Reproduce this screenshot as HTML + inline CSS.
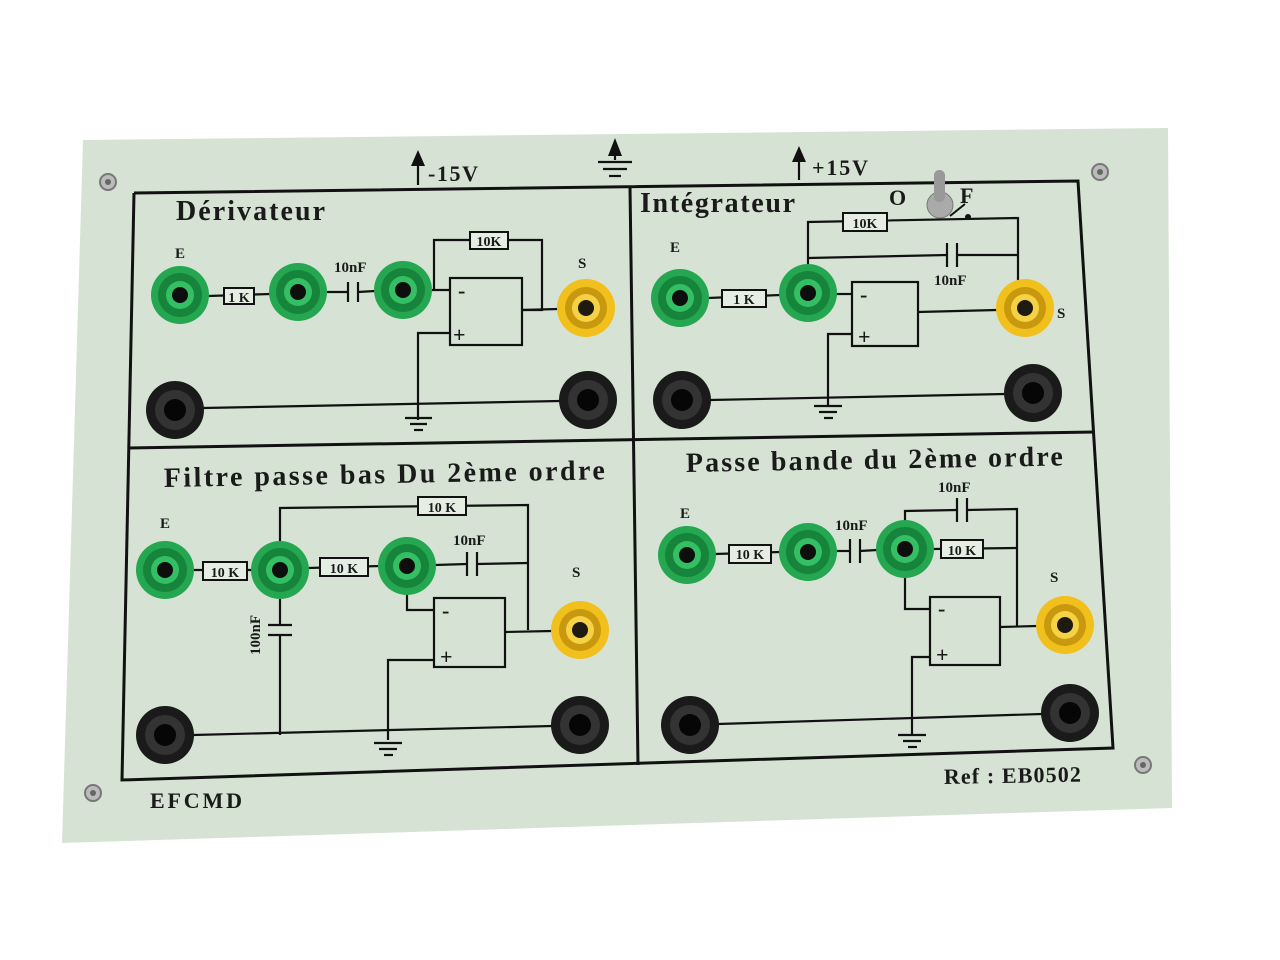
<!DOCTYPE html>
<html><head><meta charset="utf-8"><style>
html,body{margin:0;padding:0;background:#fff;}
svg{display:block}
text{font-family:"Liberation Serif",serif;font-weight:bold;fill:#1a1a1a}
</style></head><body>
<svg width="1280" height="960" viewBox="0 0 1280 960">
<defs>
<g id="gj"><circle r="29" fill="#25a650"/><circle r="22" fill="#16843a"/><circle r="14" fill="#35bf64"/><circle r="8" fill="#0e0e0e"/></g>
<g id="yj"><circle r="29" fill="#f1c01c"/><circle r="21" fill="#c8980e"/><circle r="14" fill="#f5d245"/><circle r="8" fill="#1e1a10"/></g>
<g id="bj"><circle r="29" fill="#1a1a1a"/><circle r="20" fill="#333"/><circle r="11" fill="#060606"/></g>
<g id="sc"><circle r="8" fill="#bbb" stroke="#777" stroke-width="2"/><circle r="3" fill="#666"/></g>
</defs>
<polygon points="83,140 1168,128 1172,808 62,843" fill="#d6e3d4"/>
<g stroke="#111" stroke-width="3" fill="none">
<polyline points="134,193 1078,181 1113,748 122,780 134,193"/>
<line x1="630" y1="187" x2="638" y2="765"/>
<line x1="128" y1="448" x2="1095" y2="432"/>
</g>
<g stroke="#111" stroke-width="2.2" fill="none">
<line x1="208" y1="296" x2="270" y2="294"/>
<line x1="326" y1="292" x2="348" y2="292"/><line x1="358" y1="292" x2="375" y2="291"/>
<line x1="348" y1="282" x2="348" y2="302"/><line x1="358" y1="282" x2="358" y2="302"/>
<polyline points="432,290 450,290"/>
<polyline points="434,290 434,240 542,240 542,310 522,310"/>
<line x1="522" y1="310" x2="558" y2="309"/>
<rect x="450" y="278" width="72" height="67"/>
<polyline points="450,333 418,333 418,420"/>
<line x1="203" y1="408" x2="560" y2="401"/>
<line x1="405" y1="418" x2="432" y2="418"/><line x1="410" y1="424" x2="427" y2="424"/><line x1="414" y1="430" x2="423" y2="430"/>
<line x1="708" y1="298" x2="780" y2="295"/>
<polyline points="808,265 808,222 1018,218 1018,280"/>
<line x1="808" y1="258" x2="947" y2="255"/><line x1="957" y1="255" x2="1018" y2="255"/>
<line x1="947" y1="243" x2="947" y2="267"/><line x1="957" y1="243" x2="957" y2="267"/>
<line x1="836" y1="294" x2="852" y2="294"/>
<rect x="852" y="282" width="66" height="64"/>
<line x1="918" y1="312" x2="997" y2="310"/>
<polyline points="852,334 828,334 828,405"/>
<line x1="710" y1="400" x2="1005" y2="394"/>
<line x1="814" y1="406" x2="842" y2="406"/><line x1="819" y1="412" x2="837" y2="412"/><line x1="824" y1="418" x2="833" y2="418"/>
<line x1="193" y1="570" x2="252" y2="570"/>
<line x1="308" y1="568" x2="380" y2="566"/>
<polyline points="280,542 280,508 528,505 528,630"/>
<line x1="435" y1="565" x2="467" y2="564"/><line x1="477" y1="564" x2="528" y2="563"/>
<line x1="467" y1="552" x2="467" y2="576"/><line x1="477" y1="552" x2="477" y2="576"/>
<polyline points="407,594 407,610 434,610"/>
<rect x="434" y="598" width="71" height="69"/>
<line x1="505" y1="632" x2="552" y2="631"/>
<polyline points="434,660 388,660 388,740"/>
<line x1="280" y1="598" x2="280" y2="625"/><line x1="280" y1="635" x2="280" y2="735"/>
<line x1="268" y1="625" x2="292" y2="625"/><line x1="268" y1="635" x2="292" y2="635"/>
<line x1="193" y1="735" x2="552" y2="726"/>
<line x1="374" y1="743" x2="402" y2="743"/><line x1="379" y1="749" x2="397" y2="749"/><line x1="384" y1="755" x2="393" y2="755"/>
<line x1="715" y1="554" x2="780" y2="552"/>
<line x1="836" y1="551" x2="850" y2="551"/><line x1="860" y1="551" x2="877" y2="550"/>
<line x1="850" y1="539" x2="850" y2="563"/><line x1="860" y1="539" x2="860" y2="563"/>
<polyline points="905,521 905,511 957,510"/><polyline points="967,510 1017,509 1017,627"/>
<line x1="957" y1="498" x2="957" y2="522"/><line x1="967" y1="498" x2="967" y2="522"/>
<line x1="933" y1="549" x2="1017" y2="548"/>
<polyline points="905,577 905,609 930,609"/>
<rect x="930" y="597" width="70" height="68"/>
<line x1="1000" y1="627" x2="1037" y2="626"/>
<polyline points="930,657 912,657 912,735"/>
<line x1="718" y1="724" x2="1042" y2="714"/>
<line x1="898" y1="735" x2="926" y2="735"/><line x1="903" y1="741" x2="921" y2="741"/><line x1="908" y1="747" x2="917" y2="747"/>
<line x1="598" y1="162" x2="632" y2="162"/><line x1="603" y1="169" x2="627" y2="169"/><line x1="609" y1="176" x2="621" y2="176"/>
<line x1="615" y1="160" x2="615" y2="148"/><line x1="418" y1="185" x2="418" y2="160"/><line x1="799" y1="180" x2="799" y2="156"/>
</g>
<g fill="#111"><polygon points="615,138 608,156 622,156"/><polygon points="418,150 411,166 425,166"/><polygon points="799,146 792,162 806,162"/></g>
<g stroke="#111" stroke-width="2" fill="#e6eee4">
<rect x="224" y="288" width="30" height="16"/><rect x="470" y="232" width="38" height="17"/>
<rect x="722" y="290" width="44" height="17"/><rect x="843" y="213" width="44" height="18"/>
<rect x="203" y="562" width="44" height="18"/><rect x="320" y="558" width="48" height="18"/>
<rect x="418" y="497" width="48" height="18"/><rect x="729" y="545" width="42" height="18"/>
<rect x="941" y="540" width="42" height="18"/>
</g>
<g font-size="14" text-anchor="middle">
<text x="239" y="302">1 K</text><text x="489" y="246">10K</text><text x="744" y="304">1 K</text>
<text x="865" y="228">10K</text><text x="225" y="577">10 K</text><text x="344" y="573">10 K</text>
<text x="442" y="512">10 K</text><text x="750" y="559">10 K</text><text x="962" y="555">10 K</text>
</g>
<line x1="950" y1="216" x2="965" y2="204" stroke="#111" stroke-width="2"/><circle cx="968" cy="217" r="3" fill="#111"/>
<circle cx="940" cy="205" r="13" fill="#aaa" stroke="#777"/><rect x="934" y="170" width="11" height="32" rx="5" fill="#999"/>
<g font-size="15">
<text x="334" y="272">10nF</text><text x="934" y="285">10nF</text><text x="453" y="545">10nF</text>
<text x="835" y="530">10nF</text><text x="938" y="492">10nF</text>
<text x="175" y="258">E</text><text x="578" y="268">S</text><text x="670" y="252">E</text><text x="1057" y="318">S</text>
<text x="160" y="528">E</text><text x="572" y="577">S</text><text x="680" y="518">E</text><text x="1050" y="582">S</text>
<text x="260" y="655" transform="rotate(-90 260 655)">100nF</text>
</g>
<g font-size="28"><text x="176" y="220" textLength="149">Dérivateur</text><text x="640" y="212" textLength="155">Intégrateur</text>
<text x="164" y="487" textLength="441" transform="rotate(-1 164 487)">Filtre passe bas Du 2ème ordre</text><text x="686" y="472" textLength="377" transform="rotate(-1 686 472)">Passe bande du 2ème ordre</text></g>
<g font-size="22"><text x="428" y="181" textLength="50">-15V</text><text x="812" y="175" textLength="56">+15V</text><text x="889" y="205">O</text><text x="960" y="203">F</text>
<text x="150" y="808" textLength="92">EFCMD</text><text x="944" y="784" textLength="137" transform="rotate(-1 944 784)">Ref : EB0502</text></g>
<g font-size="22"><text x="458" y="298">-</text><text x="453" y="342">+</text><text x="860" y="302">-</text><text x="858" y="344">+</text>
<text x="442" y="618">-</text><text x="440" y="664">+</text><text x="938" y="616">-</text><text x="936" y="662">+</text></g>
<use href="#gj" x="180" y="295"/><use href="#gj" x="298" y="292"/><use href="#gj" x="403" y="290"/>
<use href="#yj" x="586" y="308"/><use href="#bj" x="175" y="410"/><use href="#bj" x="588" y="400"/>
<use href="#gj" x="680" y="298"/><use href="#gj" x="808" y="293"/><use href="#yj" x="1025" y="308"/>
<use href="#bj" x="682" y="400"/><use href="#bj" x="1033" y="393"/>
<use href="#gj" x="165" y="570"/><use href="#gj" x="280" y="570"/><use href="#gj" x="407" y="566"/>
<use href="#yj" x="580" y="630"/><use href="#bj" x="165" y="735"/><use href="#bj" x="580" y="725"/>
<use href="#gj" x="687" y="555"/><use href="#gj" x="808" y="552"/><use href="#gj" x="905" y="549"/>
<use href="#yj" x="1065" y="625"/><use href="#bj" x="690" y="725"/><use href="#bj" x="1070" y="713"/>
<use href="#sc" x="108" y="182"/><use href="#sc" x="1100" y="172"/><use href="#sc" x="1143" y="765"/><use href="#sc" x="93" y="793"/>
</svg>
</body></html>
